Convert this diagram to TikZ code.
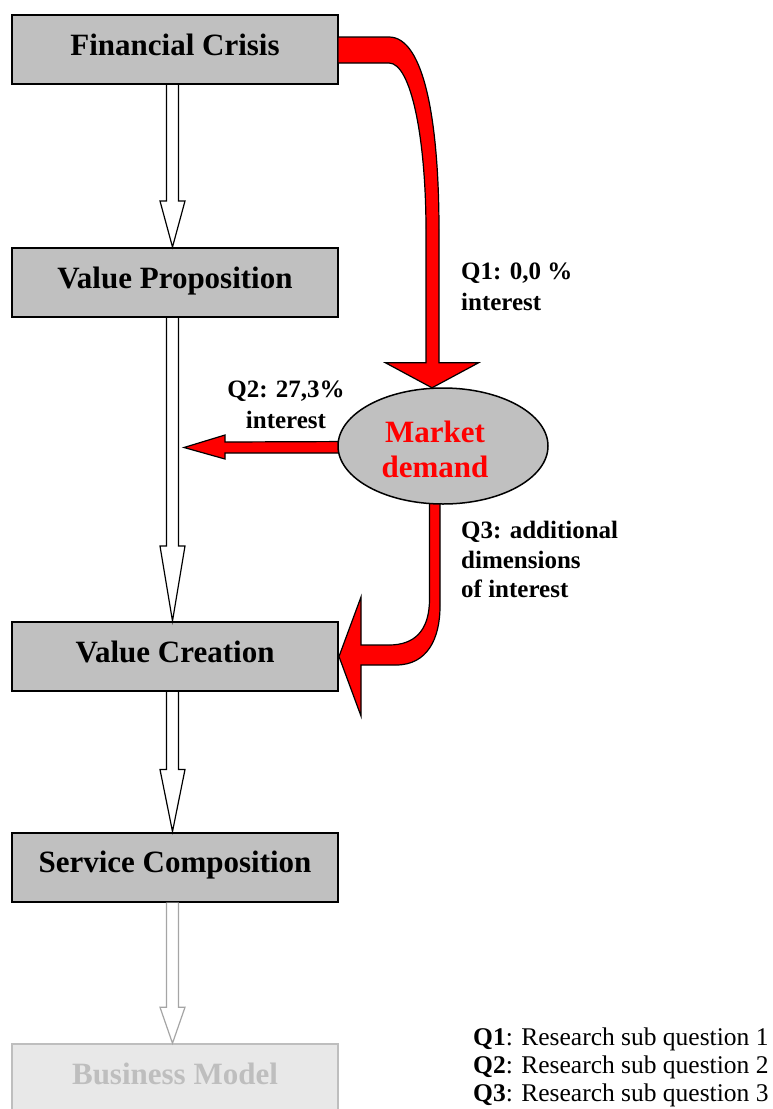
\documentclass[tikz,border=0pt]{standalone}
\usepackage{fontspec}
\setmainfont{Liberation Serif}
\usetikzlibrary{calc,shapes.geometric}
\definecolor{boxgray}{RGB}{192,192,192}
\definecolor{fadefill}{RGB}{232,232,232}
\definecolor{fadeline}{RGB}{190,190,190}
\definecolor{fadearrow}{RGB}{165,165,165}
\tikzset{
  box/.style={draw=black, line width=2pt, fill=boxgray, minimum width=326pt, minimum height=69pt,
    inner sep=0pt, font=\bfseries\fontsize{31}{35}\selectfont, text height=20.5pt, text depth=9.5pt},
  fadebox/.style={box, draw=fadeline, line width=1.5pt, fill=fadefill, text=fadeline},
  hollow/.style={draw=black, line width=1.2pt, fill=white, line join=miter},
  fadehollow/.style={hollow, draw=fadearrow},
  redarrow/.style={draw=black, line width=1.2pt, fill=red, line join=miter},
  lab/.style={font=\bfseries\fontsize{25}{31}\selectfont, inner sep=0pt},
  leg/.style={font=\fontsize{25.5}{28}\selectfont, inner sep=0pt}
}
\newcommand\hollowarr[4]{%
  \draw[#4] let \p1=(#1.south), \p2=(#2.north) in
    (\x1-8.5pt,\y1) -- (\x1-8.5pt,\y2+#3pt) -- (\x1-15pt,\y2+#3pt) -- (\x1-2.5pt,\y2)
    -- (\x1+10pt,\y2+#3pt) -- (\x1+3.5pt,\y2+#3pt) -- (\x1+3.5pt,\y1);}
\begin{document}
\begin{tikzpicture}[x=1pt,y=-1pt]
\useasboundingbox (0,0) rectangle (773,1109);
\clip (0,0) rectangle (773,1109);

% boxes
\node[box] (fc) at (175,49.5) {Financial Crisis};
\node[box] (vp) at (175,282.5) {Value Proposition};
\node[box] (vc) at (175,656.5) {Value Creation};
\node[box] (sc) at (175,867) {Service Composition};
\node[fadebox] (bm) at (175,1078.5) {Business Model};

% ellipse position (drawn later on top of arrow ends)
\path (443,446) node[ellipse, minimum width=210pt, minimum height=116pt, inner sep=0pt] (md) {};
\coordinate (q2tip) at (184,447.5);

% hollow arrows
\hollowarr{fc}{vp}{46}{hollow}
\hollowarr{vp}{vc}{75}{hollow}
\hollowarr{vc}{sc}{62}{hollow}
\hollowarr{sc}{bm}{36}{fadehollow}

% Q1 red arrow: Financial Crisis -> Market demand
\draw[redarrow]
  ($(fc.east)+(-1,-12.5)$) -- ($(fc.east)+(50,-12.5)$)
  .. controls ($(fc.east)+(85,-12.5)$) and ($(md.north)+(-4,-267)$) .. ($(md.north)+(-4,-157)$)
  -- ($(md.north)+(-4,-25)$) -- ($(md.north)+(35.5,-25)$) -- ($(md.north)+(-11,0)$)
  -- ($(md.north)+(-57.5,-25)$) -- ($(md.north)+(-17,-25)$) -- ($(md.north)+(-17,-157)$)
  .. controls ($(md.north)+(-17,-250)$) and ($(fc.east)+(72,13.5)$) .. ($(fc.east)+(50,13.5)$)
  -- ($(fc.east)+(-1,13.5)$) -- cycle;

% Q2 red arrow: Market demand -> (left)
\draw[redarrow]
  ($(md.west)+(15,-4.5)$) -- ($(q2tip)+(41,-5.5)$) -- ($(q2tip)+(41,-12.5)$) -- (q2tip)
  -- ($(q2tip)+(41,11.5)$) -- ($(q2tip)+(41,5.5)$) -- ($(md.west)+(15,7)$) -- cycle;

% Q3 red arrow: Market demand -> Value Creation
\draw[redarrow]
  ($(md.south)+(-13.5,-20)$) -- ($(md.south)+(-13.5,95)$)
  .. controls ($(md.south)+(-13.5,127)$) and ($(vc.east)+(75,-11.5)$) .. ($(vc.east)+(50,-11.5)$)
  -- ($(vc.east)+(22,-11.5)$) -- ($(vc.east)+(22,-59.5)$) -- (vc.east)
  -- ($(vc.east)+(22,59.5)$) -- ($(vc.east)+(22,8.5)$) -- ($(vc.east)+(57,8.5)$)
  .. controls ($(vc.east)+(88,8.5)$) and ($(md.south)+(-3,135)$) .. ($(md.south)+(-3,102)$)
  -- ($(md.south)+(-3,-20)$) -- cycle;

% ellipse drawn on top
\node[ellipse, draw=black, line width=1.5pt, fill=boxgray, minimum width=210pt, minimum height=116pt, inner sep=0pt] (mdshape) at (md) {};
\node[font=\bfseries\fontsize{31}{35}\selectfont, text=red, align=center, inner sep=0pt] (mdtext) at (435,449) {Market\\demand};

% labels
\node[lab, anchor=north west, align=left] (q1lab) at (461,263) {Q1: 0,0 \%\\interest};
\node[lab, anchor=north, align=center] (q2lab) at (286,381) {Q2: 27,3\%\\interest};
\node[lab, anchor=north west, align=left, font=\bfseries\fontsize{25}{29.5}\selectfont] (q3lab) at (461,521) {Q3: additional\\dimensions\\of interest};

% legend
\node[leg, anchor=base west] (leg1) at (473,1045) {\textbf{Q1}: Research sub question 1};
\node[leg, anchor=base west] (leg2) at (473,1073) {\textbf{Q2}: Research sub question 2};
\node[leg, anchor=base west] (leg3) at (473,1101) {\textbf{Q3}: Research sub question 3};
\end{tikzpicture}
\end{document}
